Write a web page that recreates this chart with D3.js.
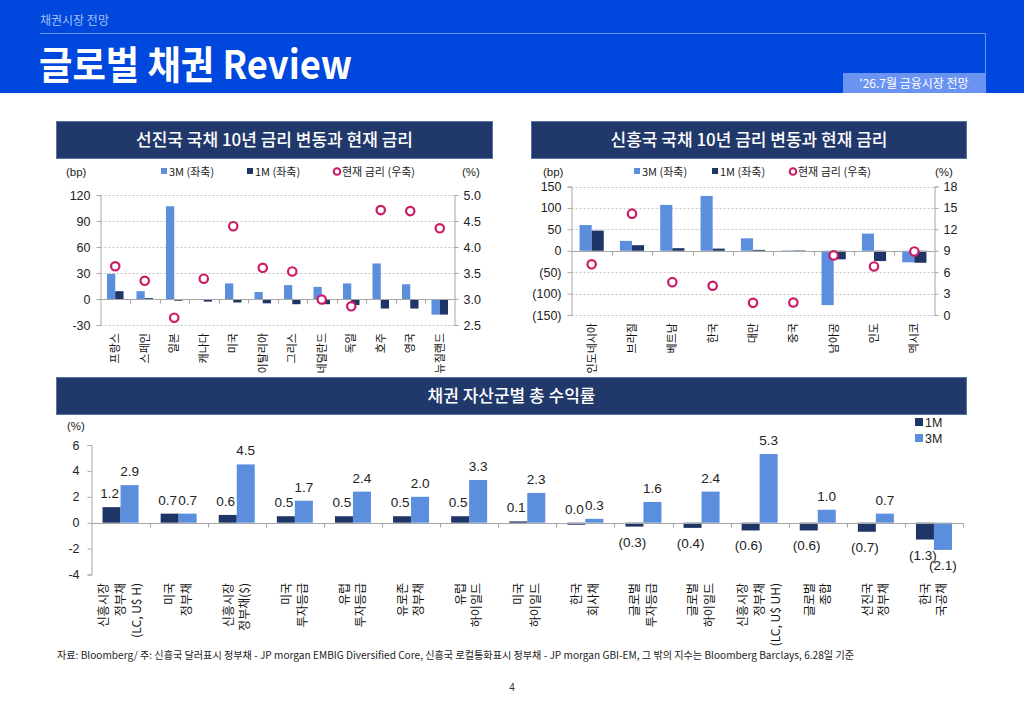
<!DOCTYPE html>
<html>
<head>
<meta charset="utf-8">
<script src="https://cdn.jsdelivr.net/npm/d3@7"></script>
<style>
  body { margin: 0; background: #fff; }
  svg { display: block; font-family: "Liberation Sans", Arial, "Noto Sans CJK KR", sans-serif; }
  .kr { font-family: "Noto Sans CJK KR", "Noto Sans", sans-serif; }
</style>
</head>
<body>
<svg id="page" width="1024" height="709"></svg>
<script>
// Colours
const col3M = "#5b8edc"
const col1M = "#1f3566"
const colRate = "#cc1a66"
const navy = "#21386b"

// 선진국 국채 10년
const dmNames = ["프랑스", "스페인", "일본", "캐나다", "미국", "이탈리아", "그리스", "네덜란드", "독일", "호주", "영국", "뉴질랜드"]
const dm3M = [29, 9, 107, -1, 18, 8, 16, 14, 18, 41, 17, -18]
const dm1M = [9, 1, -2, -3, -4, -5, -6, -6, -7, -11, -11, -18]
const dmRate = [3.63, 3.35, 2.64, 3.39, 4.40, 3.60, 3.53, 2.99, 2.86, 4.71, 4.69, 4.36]
const dmLeftTicks = [-30, 0, 30, 60, 90, 120]
const dmRightTicks = [2.5, 3.0, 3.5, 4.0, 4.5, 5.0]

// 신흥국 국채 10년
const emNames = ["인도네시아", "브라질", "베트남", "한국", "대만", "중국", "남아공", "인도", "멕시코"]
const em3M = [60, 23, 107, 128, 29, 1, -127, 40, -27]
const em1M = [47, 13, 6, 5, 2, 1, -20, -24, -28]
const emRate = [7.1, 14.2, 4.6, 4.1, 1.7, 1.75, 8.35, 6.8, 8.9]
const emLeftTicks = [-150, -100, -50, 0, 50, 100, 150]
const emRightTicks = [0, 3, 6, 9, 12, 15, 18]

// 채권 자산군별 총 수익률
const assetNames = [
    ["신흥시장", "정부채", "(LC, U$ H)"],
    ["미국", "정부채"],
    ["신흥시장", "정부채($)"],
    ["미국", "투자등급"],
    ["유럽", "투자등급"],
    ["유로존", "정부채"],
    ["유럽", "하이일드"],
    ["미국", "하이일드"],
    ["한국", "회사채"],
    ["글로벌", "투자등급"],
    ["글로벌", "하이일드"],
    ["신흥시장", "정부채", "(LC, U$ UH)"],
    ["글로벌", "종합"],
    ["선진국", "정부채"],
    ["한국", "국공채"]
]
const asset1M = [1.2, 0.7, 0.6, 0.5, 0.5, 0.5, 0.5, 0.1, 0.0, -0.3, -0.4, -0.6, -0.6, -0.7, -1.3]
const asset3M = [2.9, 0.7, 4.5, 1.7, 2.4, 2.0, 3.3, 2.3, 0.3, 1.6, 2.4, 5.3, 1.0, 0.7, -2.1]
const assetTicks = [-4, -2, 0, 2, 4, 6]

const svg = d3.select("#page")

// Header
svg.append("rect").attr("x", 0).attr("y", 0).attr("width", 1024).attr("height", 93).attr("fill", "#0047dd")
svg.append("text").attr("class", "kr").attr("x", 40).attr("y", 25)
    .attr("fill", "#a9c1f6").style("font-size", "12px").text("채권시장 전망")
svg.append("path").attr("d", "M40,33.5H985.5V75").attr("fill", "none").attr("stroke", "#6b93f2").attr("stroke-width", 1)
svg.append("text").attr("class", "kr").attr("x", 39).attr("y", 79)
    .attr("fill", "#fff").style("font-size", "39px").style("font-weight", "700")
    .attr("textLength", 313).attr("lengthAdjust", "spacingAndGlyphs")
    .text("글로벌 채권 Review")
svg.append("rect").attr("x", 843).attr("y", 73).attr("width", 143).attr("height", 20).attr("fill", "#6b93f2")
svg.append("text").attr("class", "kr").attr("x", 914).attr("y", 88).attr("text-anchor", "middle")
    .attr("fill", "#fff").style("font-size", "12px").text("'26.7월 금융시장 전망")

// Section title boxes
function titleBox(x, y, w, h, label) {
    svg.append("rect").attr("x", x).attr("y", y).attr("width", w).attr("height", h)
        .attr("fill", navy).attr("stroke", "#5d74a6").attr("stroke-width", 1)
    svg.append("text").attr("class", "kr").attr("x", x + w / 2).attr("y", y + h / 2 + 6)
        .attr("text-anchor", "middle").attr("fill", "#fff").style("font-size", "17px").style("font-weight", "500")
        .text(label)
}
titleBox(56.5, 121.5, 436, 37, "선진국 국채 10년 금리 변동과 현재 금리")
titleBox(531.5, 121.5, 435, 37, "신흥국 국채 10년 금리 변동과 현재 금리")
titleBox(56.5, 377.5, 910, 37, "채권 자산군별 총 수익률")

// Dual-axis rate change chart
function rateChart(opt) {
    const g = svg.append("g")
    const x = d3.scaleBand().domain(opt.names).range([opt.x0, opt.x1]).paddingInner(0).paddingOuter(0)
    const yL = d3.scaleLinear().domain(opt.leftDomain).range([opt.yBottom, opt.yTop])
    const yR = d3.scaleLinear().domain(opt.rightDomain).range([opt.yBottom, opt.yTop])
    const bw = x.bandwidth() * opt.barFrac / 2

    // gridlines
    g.selectAll(".grid").data(opt.leftTicks.filter(d => d !== 0)).enter().append("line")
        .attr("x1", opt.x0).attr("x2", opt.x1)
        .attr("y1", d => Math.round(yL(d)) + 0.5).attr("y2", d => Math.round(yL(d)) + 0.5)
        .attr("stroke", "#c4c4c4").attr("stroke-dasharray", "2,2")

    // axes
    const axL = g.append("g").attr("transform", "translate(" + opt.x0 + ",0)")
        .call(d3.axisLeft(yL).tickValues(opt.leftTicks).tickSize(4).tickPadding(6).tickFormat(opt.leftFmt))
    const axR = g.append("g").attr("transform", "translate(" + opt.x1 + ",0)")
        .call(d3.axisRight(yR).tickValues(opt.rightTicks).tickSize(4).tickPadding(5).tickFormat(opt.rightFmt))
    ;[axL, axR].forEach(a => {
        a.select(".domain").attr("stroke", "#a6a6a6")
        a.selectAll(".tick line").attr("stroke", "#a6a6a6")
        a.selectAll("text").attr("fill", "#222").style("font-size", "12.5px").style("font-family", "Liberation Sans, Arial, sans-serif")
    })

    // bars
    const idx = d3.range(opt.names.length)
    g.selectAll(".b3").data(idx).enter().append("rect")
        .attr("x", i => x(opt.names[i]) + x.bandwidth() / 2 - bw)
        .attr("width", bw)
        .attr("y", i => yL(Math.max(0, opt.v3[i])))
        .attr("height", i => Math.abs(yL(opt.v3[i]) - yL(0)))
        .attr("fill", col3M)
    g.selectAll(".b1").data(idx).enter().append("rect")
        .attr("x", i => x(opt.names[i]) + x.bandwidth() / 2)
        .attr("width", bw)
        .attr("y", i => yL(Math.max(0, opt.v1[i])))
        .attr("height", i => Math.abs(yL(opt.v1[i]) - yL(0)))
        .attr("fill", col1M)

    // zero line + category ticks
    const y0 = Math.round(yL(0)) + 0.5
    g.append("line").attr("x1", opt.x0).attr("x2", opt.x1).attr("y1", y0).attr("y2", y0).attr("stroke", "#a6a6a6")
    g.selectAll(".ct").data(opt.names.slice(1)).enter().append("line")
        .attr("x1", d => Math.round(x(d)) + 0.5).attr("x2", d => Math.round(x(d)) + 0.5)
        .attr("y1", y0).attr("y2", y0 + 4).attr("stroke", "#a6a6a6")

    // current rate markers
    g.selectAll(".rate").data(idx).enter().append("circle")
        .attr("cx", i => x(opt.names[i]) + x.bandwidth() / 2)
        .attr("cy", i => yR(opt.rate[i]))
        .attr("r", 4.2).attr("fill", "#fff").attr("stroke", colRate).attr("stroke-width", 2.2)

    // category labels (rotated)
    g.selectAll(".cat").data(opt.names).enter().append("text")
        .attr("class", "kr")
        .attr("transform", d => "translate(" + (x(d) + x.bandwidth() / 2 + 4) + "," + (opt.yBottom + 8) + ") rotate(-90)")
        .attr("text-anchor", "end")
        .style("font-size", "11px").attr("fill", "#111")
        .text(d => d)

    // units + legend
    g.append("text").attr("x", opt.bpX).attr("y", opt.unitY).style("font-size", "11.5px").attr("fill", "#222").text("(bp)")
    g.append("text").attr("x", opt.pctX).attr("y", opt.unitY).style("font-size", "11.5px").attr("fill", "#222").text("(%)")
    const leg = [
        { t: "3M (좌축)", x: opt.legX[0], c: col3M },
        { t: "1M (좌축)", x: opt.legX[1], c: col1M }
    ]
    leg.forEach(l => {
        g.append("rect").attr("x", l.x).attr("y", opt.unitY - 8).attr("width", 6).attr("height", 6).attr("fill", l.c)
        g.append("text").attr("class", "kr").attr("x", l.x + 8).attr("y", opt.unitY).style("font-size", "11px").attr("fill", "#222").text(l.t)
    })
    g.append("circle").attr("cx", opt.legX[2]).attr("cy", opt.unitY - 4.5).attr("r", 3.3)
        .attr("fill", "#fff").attr("stroke", colRate).attr("stroke-width", 2)
    g.append("text").attr("class", "kr").attr("x", opt.legX[2] + 5).attr("y", opt.unitY).style("font-size", "11px").attr("fill", "#222").text("현재 금리 (우축)")
}

rateChart({
    names: dmNames, v3: dm3M, v1: dm1M, rate: dmRate,
    x0: 100.5, x1: 454.5, yTop: 195, yBottom: 325,
    leftDomain: [-30, 120], rightDomain: [2.5, 5.0],
    leftTicks: dmLeftTicks, rightTicks: dmRightTicks,
    leftFmt: d => d < 0 ? "-" + Math.abs(d) : d,
    rightFmt: d3.format(".1f"),
    barFrac: 0.56,
    unitY: 176, bpX: 66, pctX: 462, legX: [161, 247, 337]
})

rateChart({
    names: emNames, v3: em3M, v1: em1M, rate: emRate,
    x0: 571.5, x1: 934.5, yTop: 186.5, yBottom: 315,
    leftDomain: [-150, 150], rightDomain: [0, 18],
    leftTicks: emLeftTicks, rightTicks: emRightTicks,
    leftFmt: d => d < 0 ? "(" + Math.abs(d) + ")" : d,
    rightFmt: d => d,
    barFrac: 0.6,
    unitY: 176, bpX: 543, pctX: 935, legX: [634, 712, 793]
})

// Total return chart
;(function () {
    const g = svg.append("g")
    const x0 = 91.5, x1 = 963
    const x = d3.scaleBand().domain(d3.range(assetNames.length)).range([x0, x1])
    const y = d3.scaleLinear().domain([-4, 6]).range([574.5, 445])
    const bw = x.bandwidth() * 0.31

    const ax = g.append("g").attr("transform", "translate(" + x0 + ",0)")
        .call(d3.axisLeft(y).tickValues(assetTicks).tickSize(4).tickPadding(8).tickFormat(d => d < 0 ? "-" + Math.abs(d) : d))
    ax.select(".domain").attr("stroke", "#a6a6a6")
    ax.selectAll(".tick line").attr("stroke", "#a6a6a6")
    ax.selectAll("text").attr("fill", "#222").style("font-size", "12.5px").style("font-family", "Liberation Sans, Arial, sans-serif")

    const idx = d3.range(assetNames.length)
    g.selectAll(".a1").data(idx).enter().append("rect")
        .attr("x", i => x(i) + x.bandwidth() / 2 - bw)
        .attr("width", bw)
        .attr("y", i => y(Math.max(0, asset1M[i])))
        .attr("height", i => Math.max(Math.abs(y(asset1M[i]) - y(0)), asset1M[i] === 0 ? 2 : 0))
        .attr("fill", col1M)
    g.selectAll(".a3").data(idx).enter().append("rect")
        .attr("x", i => x(i) + x.bandwidth() / 2)
        .attr("width", bw)
        .attr("y", i => y(Math.max(0, asset3M[i])))
        .attr("height", i => Math.abs(y(asset3M[i]) - y(0)))
        .attr("fill", col3M)

    const y0 = Math.round(y(0)) + 0.5
    g.append("line").attr("x1", x0).attr("x2", x1).attr("y1", y0).attr("y2", y0).attr("stroke", "#a6a6a6")
    g.selectAll(".ct").data(idx.slice(1).concat([assetNames.length])).enter().append("line")
        .attr("x1", i => Math.round(x0 + i * x.bandwidth()) + 0.5).attr("x2", i => Math.round(x0 + i * x.bandwidth()) + 0.5)
        .attr("y1", y0).attr("y2", y0 + 4).attr("stroke", "#a6a6a6")

    const fmt = v => v < 0 ? "(" + d3.format(".1f")(Math.abs(v)) + ")" : d3.format(".1f")(v)
    function valueLabels(vals, dx, cls) {
        g.selectAll("." + cls).data(idx).enter().append("text")
            .attr("x", i => x(i) + x.bandwidth() / 2 + dx)
            .attr("y", i => vals[i] >= 0 ? y(vals[i]) - 9 : y(vals[i]) + 20)
            .attr("text-anchor", "middle")
            .style("font-size", "13.5px").attr("fill", "#222")
            .text(i => fmt(vals[i]))
    }
    valueLabels(asset1M, -bw / 2 - 2, "l1")
    valueLabels(asset3M, bw / 2, "l3")

    // category labels (rotated, multi-line)
    idx.forEach(i => {
        const lines = assetNames[i]
        const cx = x(i) + x.bandwidth() / 2
        const lh = 16.5
        lines.forEach((ln, k) => {
            const off = (k - (lines.length - 1) / 2) * lh
            g.append("text").attr("class", "kr")
                .attr("transform", "translate(" + (cx + off + 4) + ",583) rotate(-90)")
                .attr("text-anchor", "end")
                .style("font-size", "12px").attr("fill", "#111")
                .text(ln)
        })
    })

    g.append("text").attr("x", 67).attr("y", 430).style("font-size", "11.5px").attr("fill", "#222").text("(%)")
    ;[{ t: "1M", c: col1M, y: 418 }, { t: "3M", c: col3M, y: 434 }].forEach(l => {
        g.append("rect").attr("x", 915).attr("y", l.y).attr("width", 8).attr("height", 8).attr("fill", l.c)
        g.append("text").attr("x", 925).attr("y", l.y + 8.5).style("font-size", "12.5px").attr("fill", "#222").text(l.t)
    })
})()

// Footer
svg.append("text").attr("class", "kr").attr("x", 57).attr("y", 659)
    .style("font-size", "10px").attr("fill", "#222")
    .attr("textLength", 797).attr("lengthAdjust", "spacingAndGlyphs")
    .text("자료: Bloomberg/ 주: 신흥국 달러표시 정부채 - JP morgan EMBIG Diversified Core, 신흥국 로컬통화표시 정부채 - JP morgan GBI-EM, 그 밖의 지수는 Bloomberg Barclays, 6.28일 기준")
svg.append("text").attr("x", 512).attr("y", 691).attr("text-anchor", "middle")
    .style("font-size", "10px").attr("fill", "#333").text("4")
</script>
</body>
</html>
